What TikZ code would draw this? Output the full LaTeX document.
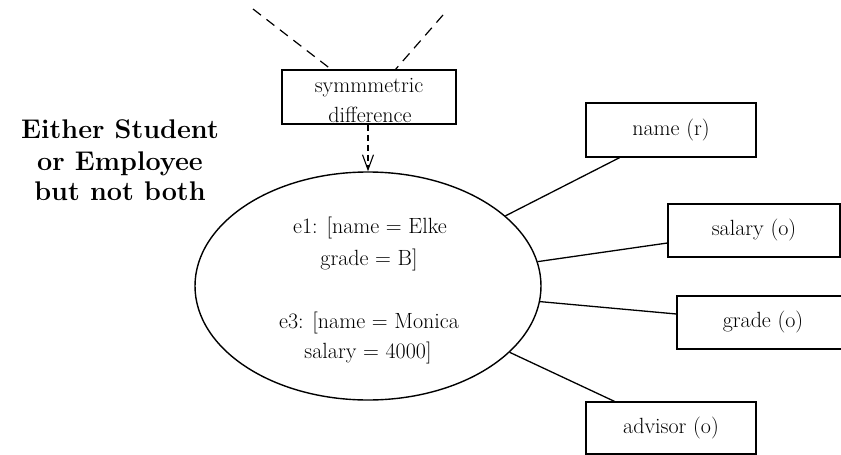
\documentclass[tikz,border=0pt]{standalone}
\usetikzlibrary{shapes.geometric,arrows.meta,calc}
\begin{document}
\begin{tikzpicture}[x=1pt,y=-1pt,
  txt/.style={inner sep=0pt, anchor=base, font=\fontsize{22}{26}\selectfont},
  bigtxt/.style={inner sep=0pt, anchor=base, font=\fontsize{27}{31}\selectfont\bfseries},
  attrbox/.style={draw, rectangle, line width=1.2pt, inner sep=0pt,
    minimum width=170pt, minimum height=54pt, font=\fontsize{22}{26}\selectfont},
  link/.style={line width=1.3pt},
  dashlink/.style={line width=1.2pt, dash pattern=on 10pt off 7pt}
]
\clip (0,0) rectangle (841,455);

% the set operator box with its two incoming dashed arcs
\node[draw, rectangle, line width=1.2pt, minimum width=174pt, minimum height=54pt, inner sep=0pt] (sd) at (369,97) {};
\node[txt] (sdA) at (369,92) {symmmetric};
\node[txt] (sdB) at (370,122) {difference};
\coordinate (inL) at (253,9);
\coordinate (inR) at (443,15);
\coordinate (sdL) at (332,70);
\coordinate (sdR) at (395,70);
\draw[dashlink] (inL) -- (sdL);
\draw[dashlink] (inR) -- (sdR);

% left caption
\node[bigtxt] (capA) at (120,138) {Either Student};
\node[bigtxt] (capB) at (120,170) {or Employee};
\node[bigtxt] (capC) at (120,200) {but not both};

% the resulting entity set
\node[draw, ellipse, line width=1.4pt, minimum width=346pt, minimum height=228pt, inner sep=0pt] (ell) at (368,286) {};
\node[txt] (r1a) at (370,233) {e1: [name = Elke};
\node[txt] (r1b) at (369,265) {grade = B]};
\node[txt] (r3a) at (369,328) {e3: [name = Monica};
\node[txt] (r3b) at (368,358) {salary = 4000]};

\draw[line width=1.1pt, dash pattern=on 6pt off 4pt, -{Straight Barb[length=15pt,width=11pt]}]
  (sd.south -| ell.north) -- (ell.north);

% attributes
\node[attrbox] (aname) at (671,130) {name (r)};
\node[attrbox, minimum width=172pt, minimum height=53pt] (asal) at (754,230.5) {salary (o)};
\node[attrbox, minimum width=172pt, minimum height=53pt] (agrade) at (763,322.5) {grade (o)};
\node[attrbox, minimum height=52pt] (aadv) at (671,428) {advisor (o)};

\draw[link] (ell) -- ($(aname.south west)!0.2!(aname.south east)$);
\draw[link] (ell) -- ($(asal.west)+(0,12.5)$);
\draw[link] (ell) -- ($(agrade.west)+(0,-8.5)$);
\draw[link] (ell) -- ($(aadv.north west)!0.17!(aadv.north east)$);
\end{tikzpicture}
\end{document}
